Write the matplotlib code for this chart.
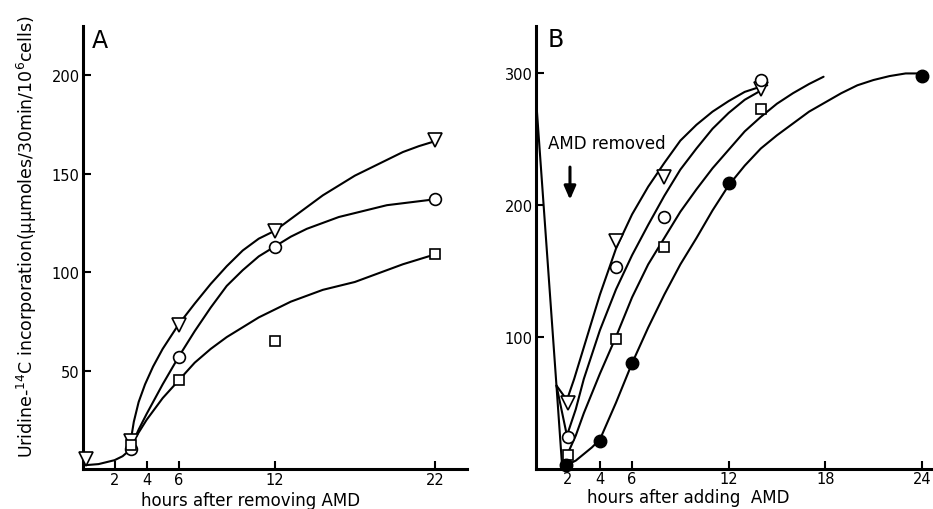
import numpy as np
import matplotlib.pyplot as plt

# ---- panel A: hours after removing AMD ----
a_hours = [3, 6, 12, 22]
a_tri = [14, 73, 121, 167]
a_circ = [10, 57, 113, 137]
a_sq = [12, 45, 65, 109]
a_start_h = [0.2]
a_start_v = [5]

# smooth curves
a_base_x = [0.25, 1, 2, 2.5, 3]
a_base_y = [2, 2.5, 4.5, 6.5, 10]
a_tri_cx = [3, 3.2, 3.5, 3.9, 4.4, 5, 6, 7, 8, 9, 10, 11, 12, 13, 14, 15, 16, 17, 18, 19, 20, 21, 22]
a_tri_cy = [14, 24, 34, 43, 52, 61, 73.5, 84, 94, 103, 111, 117, 121, 127, 133, 139, 144, 149, 153, 157, 161, 164, 166.5]
a_circ_cx = [3, 3.5, 4, 5, 6, 7, 8, 9, 10, 11, 12, 13, 14, 15, 16, 17, 18, 19, 20, 21, 22]
a_circ_cy = [11, 20, 28, 43, 57, 70, 82, 93, 101, 108, 113, 118, 122, 125, 128, 130, 132, 134, 135, 136, 137]
a_sq_cx = [3, 4, 5, 6, 7, 8, 9, 10, 11, 12, 13, 14, 15, 16, 17, 18, 19, 20, 21, 22]
a_sq_cy = [12, 25, 36, 45, 54, 61, 67, 72, 77, 81, 85, 88, 91, 93, 95, 98, 101, 104, 106.5, 109]

# ---- panel B: hours after adding AMD ----
b_hours = [2, 5, 8, 14]
b_tri = [50, 173, 221, 288]
b_circ = [24, 153, 191, 295]
b_sq = [10, 98, 168, 273]
b_fill_h = [1.9, 4, 6, 12, 24]
b_fill = [3, 21, 80, 217, 298]

b_drop_x = [0, 1.3, 1.65]
b_drop_y = [286, 63, 2]
b_c1x = [1.3, 1.95, 2.4, 3, 4, 5, 6, 7, 8, 9, 10, 11, 12, 13, 14, 14.4]
b_c1y = [63, 52, 68, 92, 132, 167, 193, 214, 232, 249, 261, 271, 279, 286, 290, 291]
b_c2x = [1.3, 1.95, 2.5, 3, 4, 5, 6, 7, 8, 9, 10, 11, 12, 13, 14]
b_c2y = [63, 25, 45, 68, 105, 136, 162, 185, 207, 227, 243, 258, 270, 280, 287]
b_c3x = [1.95, 2.5, 3, 4, 5, 6, 7, 8, 9, 10, 11, 12, 13, 14, 15, 16, 17, 17.9]
b_c3y = [10, 25, 42, 72, 100, 130, 155, 175, 195, 212, 228, 242, 256, 267, 277, 285, 292, 297.5]
b_c4x = [1.65, 2, 2.5, 3, 3.5, 4, 5, 6, 7, 8, 9, 10, 11, 12, 13, 14, 15, 16, 17, 18, 19, 20, 21, 22, 23, 23.9]
b_c4y = [2, 3, 6, 11, 16, 22, 50, 80, 107, 132, 155, 175, 196, 215, 230, 243, 253, 262, 271, 278, 285, 291, 295, 298, 300, 300]

a_xticks = [2, 4, 6, 12, 22]
a_yticks = [50, 100, 150, 200]
b_xticks = [2, 4, 6, 12, 18, 24]
b_yticks = [100, 200, 300]

fig = plt.figure(figsize=(9.33, 5.10), dpi=100)
axA = fig.add_axes([0.0885, 0.0784, 0.412, 0.8686])
axB = fig.add_axes([0.574, 0.0794, 0.426, 0.8676])

line_kw = dict(color='k', lw=1.5, solid_capstyle='round', solid_joinstyle='round')
mk = dict(ls='none', color='k', mfc='white', mew=1.2, zorder=4, clip_on=False)


def style(ax, xlim, ylim, xt, yt):
    ax.set_xlim(*xlim)
    ax.set_ylim(*ylim)
    for s in ['top', 'right']:
        ax.spines[s].set_visible(False)
    for s in ['left', 'bottom']:
        ax.spines[s].set_linewidth(2.2)
    ax.set_xticks(xt)
    ax.set_yticks(yt)
    ax.tick_params(direction='in', length=6, width=1.5, labelsize=10.5, pad=2)


# panel A
axA.plot(a_base_x, a_base_y, **line_kw)
axA.plot(a_tri_cx, a_tri_cy, **line_kw)
axA.plot(a_circ_cx, a_circ_cy, **line_kw)
axA.plot(a_sq_cx, a_sq_cy, **line_kw)
axA.plot(a_start_h, a_start_v, marker='v', ms=9.5, **mk)
axA.plot(a_hours, a_tri, marker='v', ms=9.5, **mk)
axA.plot(a_hours, a_circ, marker='o', ms=8.5, **mk)
axA.plot(a_hours, a_sq, marker='s', ms=6.5, **mk)
style(axA, (0, 24), (0, 225), a_xticks, a_yticks)
axA.text(0.55, 218, 'A', fontsize=17, ha='left', va='center')

# panel B
axB.plot(b_drop_x, b_drop_y, **line_kw)
axB.plot(b_c1x, b_c1y, **line_kw)
axB.plot(b_c2x, b_c2y, **line_kw)
axB.plot(b_c3x, b_c3y, **line_kw)
axB.plot(b_c4x, b_c4y, **line_kw)
axB.plot(b_hours, b_tri, marker='v', ms=9.5, **mk)
axB.plot(b_hours, b_circ, marker='o', ms=8.5, **mk)
axB.plot(b_hours, b_sq, marker='s', ms=6.5, **mk)
axB.plot(b_fill_h, b_fill, ls='none', marker='o', ms=9, color='k', zorder=4, clip_on=False)
style(axB, (0, 24.7), (0, 336), b_xticks, b_yticks)
axB.text(0.75, 326, 'B', fontsize=17, ha='left', va='center')
axB.text(0.78, 247, 'AMD removed', fontsize=12, ha='left', va='center')
axB.annotate('', xy=(2.14, 202), xytext=(2.14, 231),
             arrowprops=dict(arrowstyle='-|>,head_width=0.35,head_length=0.8',
                             color='k', lw=2.2))

fig.text(251 / 933, 1 - 501 / 510, 'hours after removing AMD', fontsize=12,
         ha='center', va='center')
fig.text(688 / 933, 1 - 498 / 510, 'hours after adding  AMD', fontsize=12,
         ha='center', va='center')
fig.text(27 / 933, 0.535,
         'Uridine-$^{14}$C incorporation(μμmoles/30min/10$^{6}$cells)',
         fontsize=12.5, rotation=90, ha='center', va='center')

fig.savefig('out.png', dpi=100)
